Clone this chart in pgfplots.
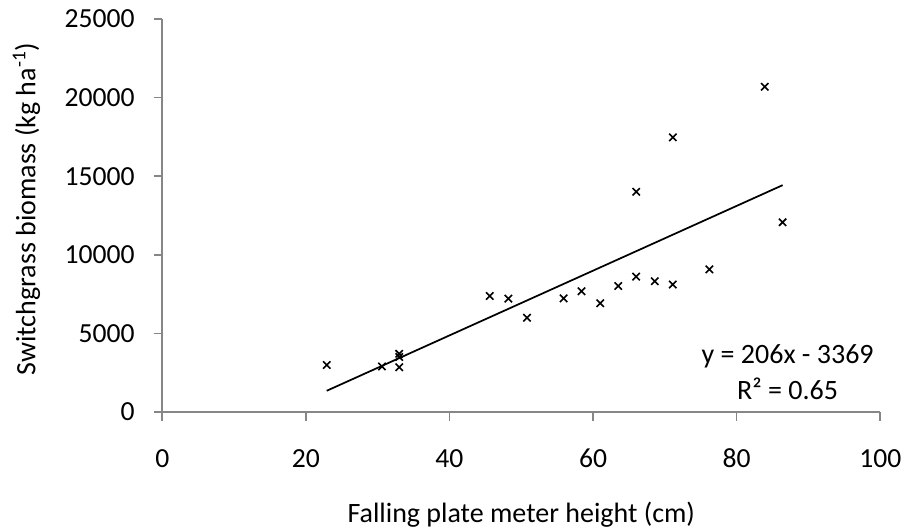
\documentclass[border=0pt]{standalone}
\usepackage{pgfplots}
\pgfplotsset{compat=1.18}
\usepackage{fontspec}
\setmainfont{Carlito}
\definecolor{axisgray}{RGB}{134,134,134}
\begin{document}
\begin{tikzpicture}[x=1pt,y=1pt]
\useasboundingbox (0,0) rectangle (678,398.25);
\begin{axis}[
  at={(121.7pt,89.25pt)}, anchor=south west,
  scale only axis, width=538.5pt, height=294.75pt,
  xmin=0, xmax=100, ymin=0, ymax=25000,
  xtick={0,20,...,100}, ytick={0,5000,...,25000},
  axis lines*=left,
  axis line style={draw=axisgray, line width=1.2pt},
  tick align=outside, major tick length=6.5pt,
  tick style={draw=axisgray, line width=1.2pt},
  scaled y ticks=false,
  /pgf/number format/assume math mode=true,
  /pgf/number format/1000 sep={},
  ticklabel style={font=\fontsize{20.7}{24}\selectfont, inner sep=0pt, text=black},
  xticklabel style={anchor=center, yshift=-28.4pt},
  yticklabel style={anchor=east, xshift=-14pt},
  xlabel={Falling plate meter height (cm)},
  ylabel={Switchgrass biomass (kg ha\textsuperscript{-1})},
  label style={font=\fontsize{21}{24}\selectfont, inner sep=0pt},
  xlabel style={at={(axis description cs:0.5,-0.262)}, anchor=center},
  ylabel style={at={(axis description cs:-0.1891,0.5165)}, anchor=center, rotate=0},
  clip=false,
]
\addplot[only marks, mark=x, mark size=3.9pt, mark options={line width=1.2pt, draw=black}] coordinates {
(22.9,2990) (30.6,2900) (33.0,3700) (33.0,3500) (33.0,2850)
(45.6,7380) (48.2,7210) (50.8,6000) (55.9,7230) (58.4,7680)
(61.0,6920) (63.5,8015) (66.0,14010) (66.0,8610) (68.6,8320)
(71.1,17470) (71.1,8110) (76.2,9075) (83.9,20690) (86.4,12070)
};
\addplot[black, line width=1.3pt] coordinates {(22.9,1348.4) (86.4,14429.4)};
\node[align=center, font=\fontsize{21}{27}\selectfont, inner sep=0pt] at (axis cs:87.1,2545) {y = 206x - 3369\\R² = 0.65};
\end{axis}
\end{tikzpicture}
\end{document}
